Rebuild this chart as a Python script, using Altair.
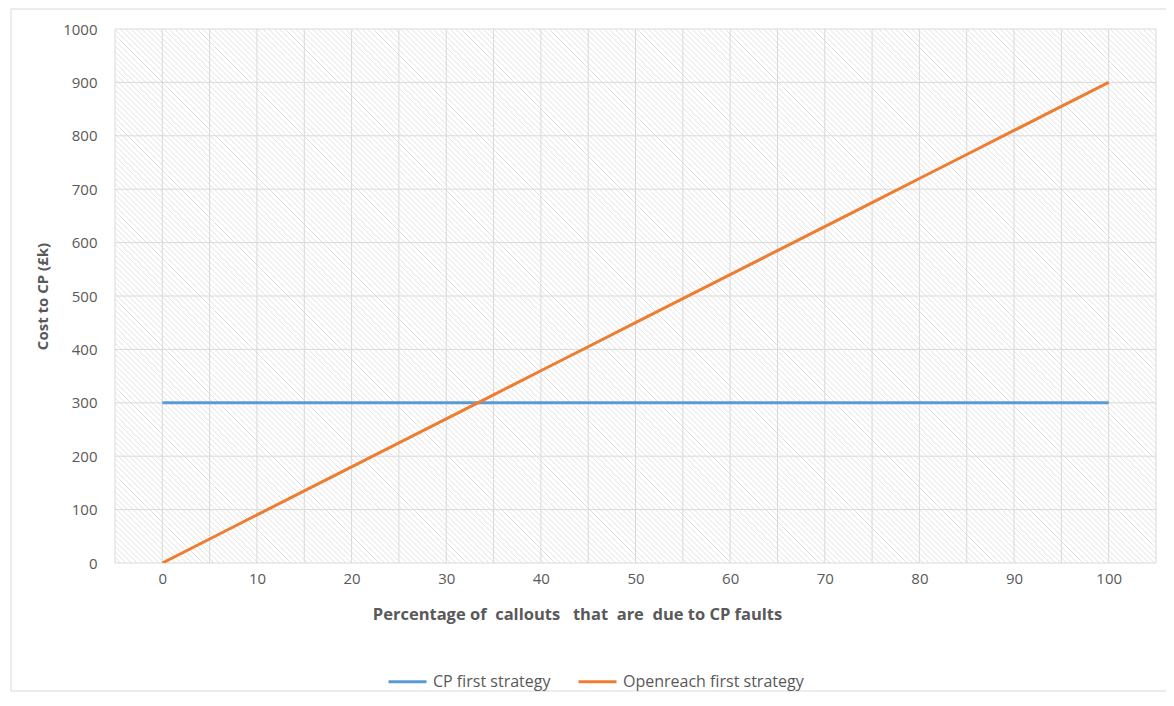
import altair as alt
import pandas as pd

# Data
pct = [0, 5, 10, 15, 20, 25, 30, 35, 40, 45, 50, 55, 60, 65, 70, 75, 80, 85, 90, 95, 100]
cp_first = [300] * 21
openreach_first = [0, 45, 90, 135, 180, 225, 270, 315, 360, 405, 450, 495, 540, 585, 630,
                    675, 720, 765, 810, 855, 900]
series_names = ["CP first strategy", "Openreach first strategy"]
series_colors = ["#5B9BD5", "#ED7D31"]
x_ticks = [0, 10, 20, 30, 40, 50, 60, 70, 80, 90, 100]
x_grid = list(range(-5, 106, 5))
y_ticks = list(range(0, 1001, 100))

W, H = 1041, 534
XMIN, XMAX = -5, 105

rows = []
for x, a, b in zip(pct, cp_first, openreach_first):
    rows.append({"pct": x, "cost": a, "series": series_names[0]})
    rows.append({"pct": x, "cost": b, "series": series_names[1]})
df = pd.DataFrame(rows)

xscale = alt.Scale(domain=[XMIN, XMAX], nice=False, zero=False)
yscale = alt.Scale(domain=[0, 1000], nice=False)

x_axis = alt.Axis(
    values=x_ticks,
    grid=False,
    domain=False,
    ticks=False,
    labelPadding=8,
    title="Percentage of\u00a0\u00a0callouts\u00a0\u00a0\u00a0that\u00a0\u00a0are\u00a0\u00a0due to CP faults",
    titleX=462,
    titlePadding=20,
    titleFontSize=16.5,
)
y_axis = alt.Axis(
    values=y_ticks,
    format="d",
    grid=False,
    domain=False,
    ticks=False,
    labelPadding=18,
    title="Cost to CP (£k)",
    titlePadding=12,
    titleFontSize=15,
)

# background hatch (decorative texture, 45 degrees in pixel space)
hu = (XMAX - XMIN) * H / W
step = 5.5 * (XMAX - XMIN) / W
n = int(((XMAX - XMIN) + hu) / step) + 2
hatch = alt.Chart(alt.sequence(0, n, as_="k")).transform_calculate(
    x0=f"{XMIN - hu} + datum.k * {step}",
    x1=f"{XMIN} + datum.k * {step}",
    ytop="1000",
    ybot="0",
).mark_rule(color="#e2e2e2", strokeWidth=1, clip=True).encode(
    x=alt.X("x0:Q", scale=xscale, axis=x_axis),
    x2="x1:Q",
    y=alt.Y("ytop:Q", scale=yscale, axis=y_axis),
    y2="ybot:Q",
)

xgrid = alt.Chart(pd.DataFrame({"g": x_grid})).mark_rule(color="#d9d9d9", strokeWidth=1).encode(
    x=alt.X("g:Q", scale=xscale, axis=x_axis),
)
ygrid = alt.Chart(pd.DataFrame({"g": y_ticks})).mark_rule(color="#d9d9d9", strokeWidth=1).encode(
    y=alt.Y("g:Q", scale=yscale, axis=y_axis),
)

lines = alt.Chart(df).mark_line(strokeWidth=3, clip=True).encode(
    x=alt.X("pct:Q", scale=xscale, axis=x_axis),
    y=alt.Y("cost:Q", scale=yscale, axis=y_axis),
    color=alt.Color(
        "series:N",
        scale=alt.Scale(domain=series_names, range=series_colors),
        legend=alt.Legend(
            title=None,
            orient="none",
            legendX=272,
            legendY=632,
            direction="horizontal",
            symbolType="stroke",
            symbolSize=1444,
            symbolStrokeWidth=3,
            columnPadding=21,
            labelOffset=5,
            labelLimit=400,
        ),
    ),
)

border = alt.Chart(pd.DataFrame({"a": [0]})).mark_rect(
    fill=None, stroke="#d9d9d9", strokeWidth=1
).encode(
    x=alt.value(-104), x2=alt.value(W + 12), y=alt.value(-20), y2=alt.value(H + 128)
)

chart = alt.layer(border, hatch, xgrid, ygrid, lines).properties(
    width=W,
    height=H,
    autosize=alt.AutoSizeParams(type="none"),
    padding={"left": 107, "top": 21, "right": 10, "bottom": 132},
).configure_view(stroke=None).configure_axis(
    labelFont="Open Sans",
    labelFontSize=15,
    labelColor="#595959",
    titleFont="Open Sans",
    titleFontWeight="bold",
    titleColor="#595959",
).configure_legend(
    labelFont="Open Sans",
    labelFontSize=16,
    labelColor="#595959",
)

chart.save("out.html", embed_options={"renderer": "svg", "actions": False})
